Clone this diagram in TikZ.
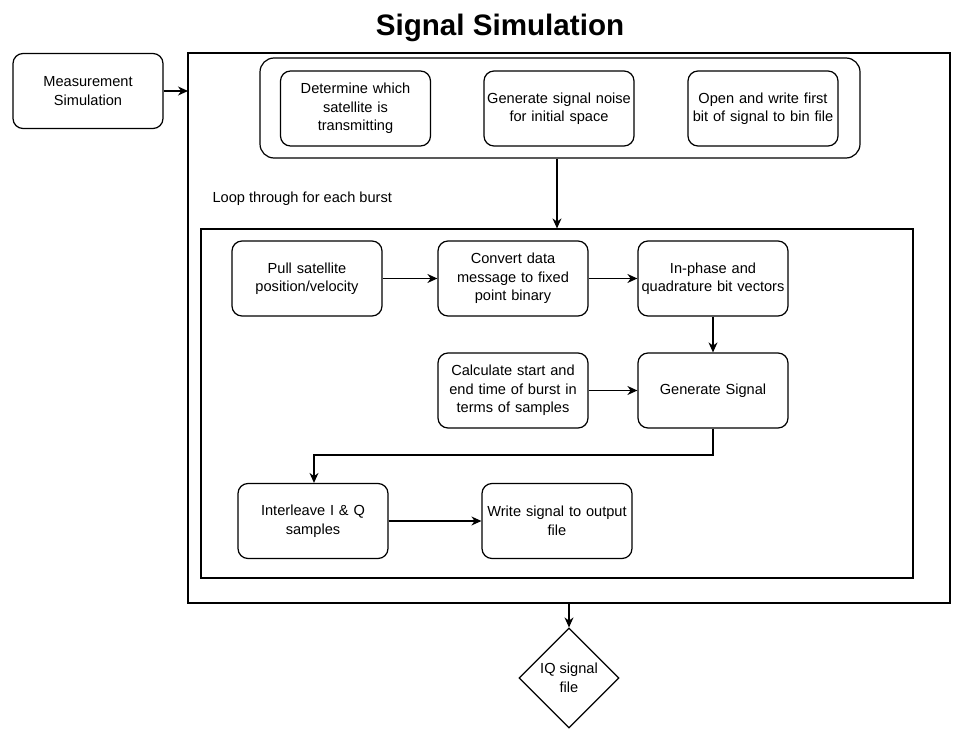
\documentclass[tikz,border=0pt]{standalone}
\usepackage{fontspec}
\setmainfont{Liberation Sans}
\usetikzlibrary{shapes.geometric,arrows.meta}
\begin{document}
\begin{tikzpicture}[x=1pt,y=-1pt,
  every node/.style={font=\fontsize{14.6}{18.5}\selectfont},
  rbox/.style={draw,line width=1.2pt,rounded corners=10pt,minimum width=150pt,minimum height=75pt,align=center,text width=148pt,inner sep=0pt},
  frame/.style={draw,line width=1.2pt},
  arr/.style={-{Stealth[length=10pt,width=9pt]},line width=1.2pt}]
\useasboundingbox (0,0) rectangle (972,733);
\node[font=\bfseries\fontsize{29.6}{34}\selectfont] (title) at (500,28) {Signal Simulation};
\node[rbox] (meas) at (88,91) {Measurement\\Simulation};
\node[frame,minimum width=762pt,minimum height=550pt,inner sep=0pt] (outer) at (569,328) {};
\node[frame,rounded corners=14pt,minimum width=600pt,minimum height=100pt,inner sep=0pt] (top) at (560,108) {};
\node[rbox] (det) at (355.5,108.5) {Determine which\\satellite is\\transmitting};
\node[rbox] (noise) at (559,108.5) {Generate signal noise\\for initial space};
\node[rbox] (open) at (763,108.5) {Open and write first\\bit of signal to bin file};
\node[anchor=west] (loop) at (209,199) {Loop through for each burst};
\node[frame,minimum width=712pt,minimum height=349pt,inner sep=0pt] (inner) at (557,403.5) {};
\node[rbox] (pull) at (307,278.5) {Pull satellite\\position/velocity};
\node[rbox] (conv) at (513,278.5) {Convert data\\message to fixed\\point binary};
\node[rbox] (inph) at (713,278.5) {In-phase and\\quadrature bit vectors};
\node[rbox] (calc) at (513,390.5) {Calculate start and\\end time of burst in\\terms of samples};
\node[rbox] (gen) at (713,390.5) {Generate Signal};
\node[rbox] (inter) at (313,521) {Interleave I \& Q\\samples};
\node[rbox] (write) at (557,521) {Write signal to output\\file};
\node[draw,line width=1.2pt,diamond,minimum width=100pt,minimum height=100pt,inner sep=0pt,align=center] (iq) at (569,678) {IQ signal\\file};
\draw[arr] (meas.east) -- (188,91);
\draw[arr] (top.south -| 557,0) -- (inner.north -| 557,0);
\draw[arr] (pull) -- (conv);
\draw[arr] (conv) -- (inph);
\draw[arr] (inph) -- (gen);
\draw[arr] (calc) -- (gen);
\draw[arr] (gen.south) |- (314,455) -- (inter.north -| 314,0);
\draw[arr] (inter) -- (write);
\draw[arr] (outer.south) -- (iq.north);
\end{tikzpicture}
\end{document}
